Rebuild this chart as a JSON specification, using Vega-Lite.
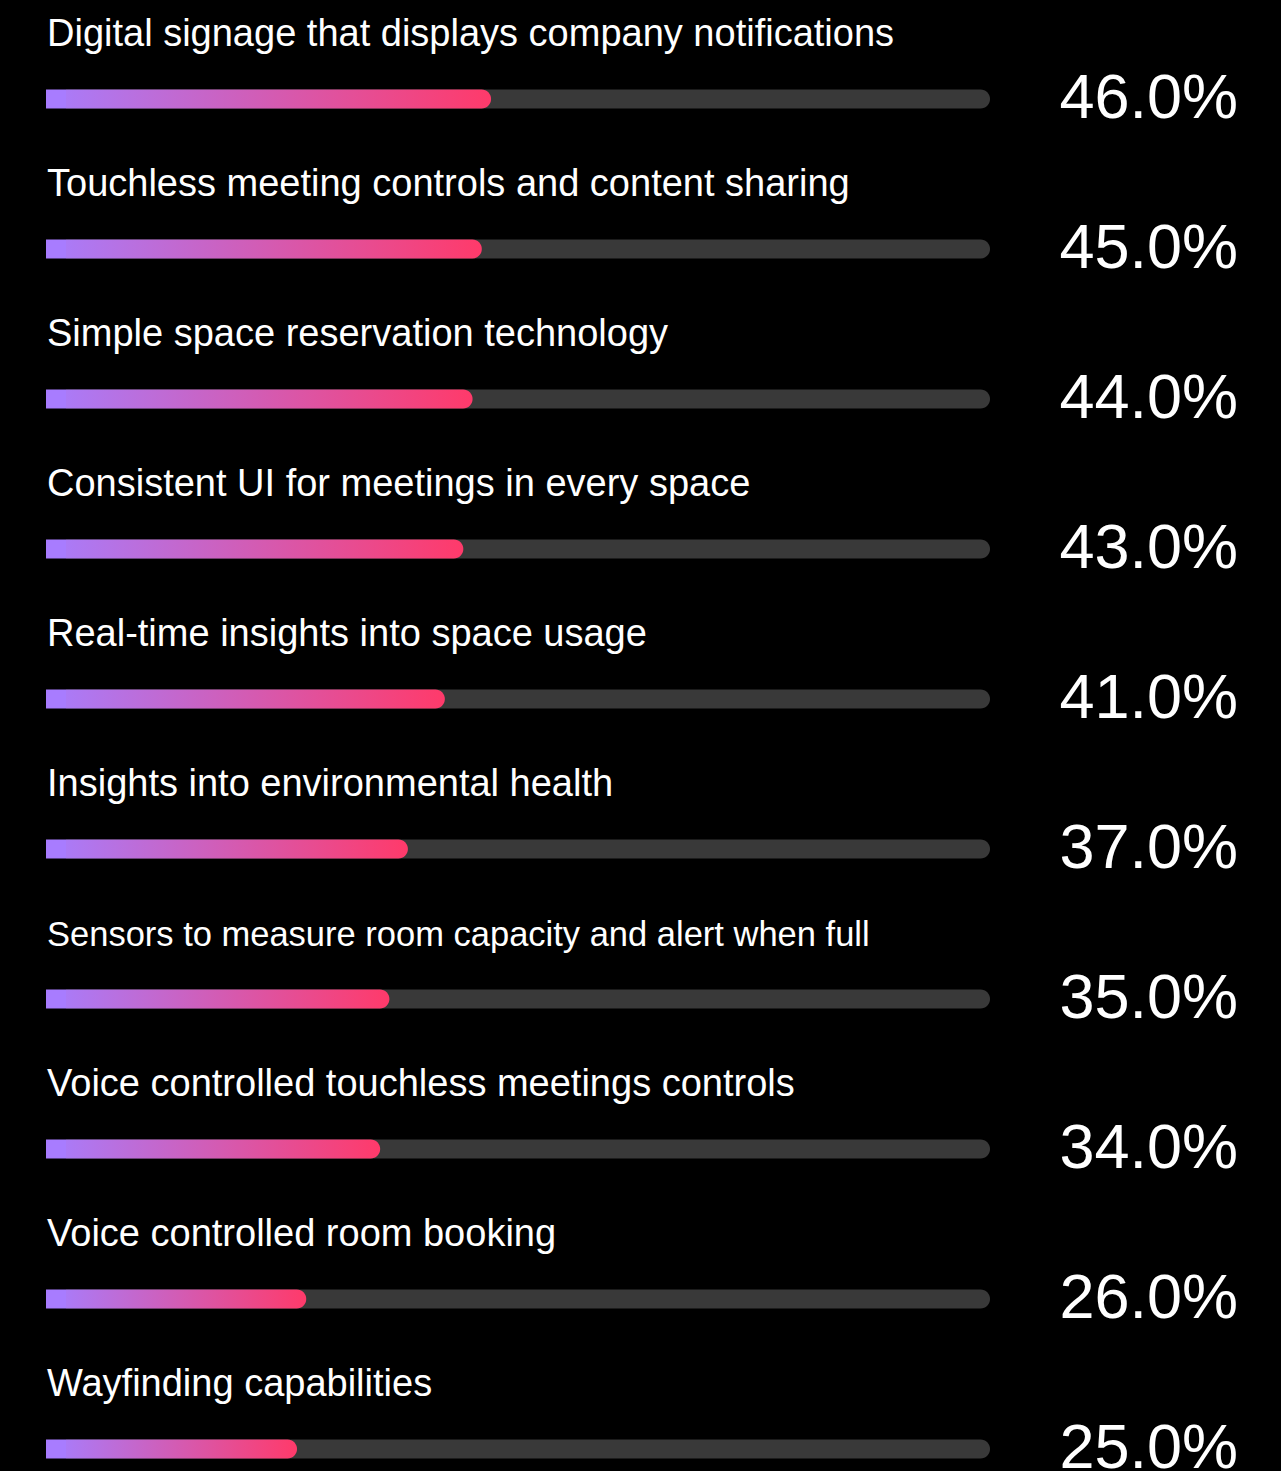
{
  "$schema": "https://vega.github.io/schema/vega-lite/v6.json",
  "width": 1281,
  "height": {"step": 150},
  "autosize": {"type": "none"},
  "padding": {"left": 0, "top": 24, "right": 0, "bottom": 0},
  "background": "#000000",
  "config": {"view": {"stroke": null}},
  "data": {"values": [
    {"label": "Digital signage that displays company notifications", "value": 0.46},
    {"label": "Touchless meeting controls and content sharing", "value": 0.45},
    {"label": "Simple space reservation technology", "value": 0.44},
    {"label": "Consistent UI for meetings in every space", "value": 0.43},
    {"label": "Real-time insights into space usage", "value": 0.41},
    {"label": "Insights into environmental health", "value": 0.37},
    {"label": "Sensors to measure room capacity and alert when full", "value": 0.35},
    {"label": "Voice controlled touchless meetings controls", "value": 0.34},
    {"label": "Voice controlled room booking", "value": 0.26},
    {"label": "Wayfinding capabilities", "value": 0.25}
  ]},
  "encoding": {
    "y": {"field": "label", "type": "nominal", "sort": null, "axis": null,
          "scale": {"paddingInner": 0, "paddingOuter": 0}}
  },
  "layer": [
    {
      "mark": {"type": "bar", "color": "#393939", "height": 19,
               "cornerRadiusTopRight": 9.5, "cornerRadiusBottomRight": 9.5},
      "encoding": {
        "x": {"datum": 0, "type": "quantitative", "axis": null,
              "scale": {"domain": [-0.07143, 1.3149], "nice": false, "zero": false}},
        "x2": {"datum": 1.0}
      }
    },
    {
      "mark": {"type": "bar", "height": 19,
               "cornerRadiusTopRight": 9.5, "cornerRadiusBottomRight": 9.5,
               "color": {"gradient": "linear", "x1": 0, "y1": 0, "x2": 1, "y2": 0,
                         "stops": [{"offset": 0, "color": "#ab7af6"}, {"offset": 1, "color": "#ff3a6a"}]}},
      "encoding": {
        "x": {"field": "value", "type": "quantitative", "axis": null},
        "x2": {"datum": 0}
      }
    },
    {
      "mark": {"type": "bar", "color": "#a87cff", "height": 19},
      "encoding": {
        "x": {"datum": -0.02164, "type": "quantitative", "axis": null},
        "x2": {"datum": 0}
      }
    },
    {
      "mark": {"type": "text", "align": "left", "baseline": "alphabetic", "yOffset": -53,
               "font": "Liberation Sans", "color": "#ffffff"},
      "encoding": {
        "x": {"datum": -0.02056, "type": "quantitative", "axis": null},
        "text": {"field": "label", "type": "nominal"},
        "size": {"condition": {"test": "datum.label === 'Sensors to measure room capacity and alert when full'", "value": 34.5}, "value": 38}
      }
    },
    {
      "mark": {"type": "text", "align": "right", "baseline": "alphabetic", "yOffset": 19,
               "font": "Liberation Sans", "fontSize": 63, "color": "#ffffff"},
      "encoding": {
        "x": {"datum": 1.2684, "type": "quantitative", "axis": null},
        "text": {"field": "value", "type": "quantitative", "format": ".1%"}
      }
    }
  ]
}
